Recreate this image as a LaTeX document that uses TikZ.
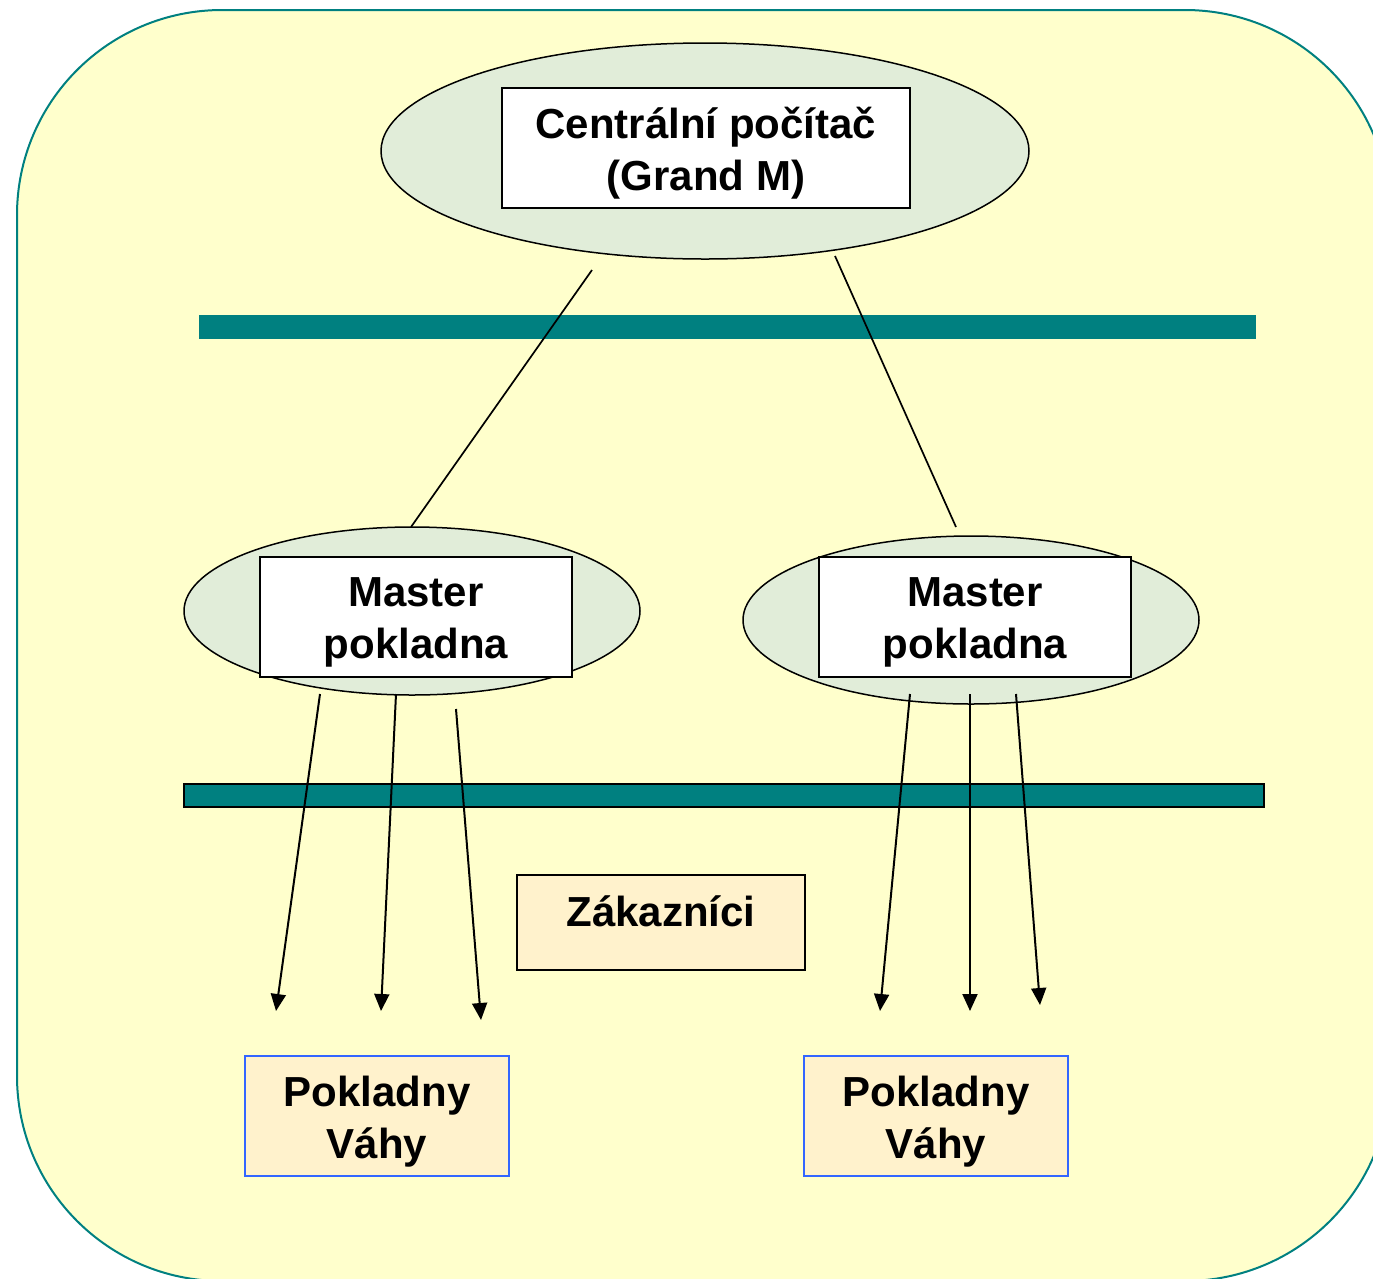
\documentclass[tikz,border=0pt]{standalone}
\usepackage{fontspec}
\setmainfont{Liberation Sans}
\usetikzlibrary{shapes.geometric,arrows.meta}
\definecolor{bgyellow}{HTML}{FFFFCC}
\definecolor{tealc}{HTML}{008080}
\definecolor{ellfill}{HTML}{E1EDD9}
\definecolor{cream}{HTML}{FFF2CC}
\definecolor{bluec}{HTML}{3366FF}
\begin{document}
\begin{tikzpicture}[x=1pt,y=-1pt,
  lbl/.style={font=\fontsize{42}{52}\selectfont\bfseries, align=center, inner sep=0pt},
  ell/.style={ellipse, draw=black, line width=1.5pt, fill=ellfill, inner sep=0pt},
  wbox/.style={rectangle, draw=black, line width=1.5pt, fill=white, inner sep=0pt},
  cbox/.style={rectangle, draw=black, line width=1.5pt, fill=cream, inner sep=0pt},
  pbox/.style={rectangle, draw=bluec, line width=1.5pt, fill=cream, inner sep=0pt, minimum width=264pt, minimum height=120pt},
  link/.style={line width=1.7pt},
  arr/.style={line width=2pt, -{Triangle[length=17pt,width=15pt]}},
  bar/.style={fill=tealc}
]
\useasboundingbox (0,0) rectangle (1373,1278);
\begin{scope}
\clip (0,0) rectangle (1373,1278);
\draw[fill=bgyellow, draw=tealc, line width=2pt, rounded corners=205pt] (17,10) rectangle (1390,1281);
\end{scope}

% bars
\path[bar] (199,315) rectangle (1256,339);
\draw[bar, draw=black, line width=1.5pt] (184,784) rectangle (1264,807);

% central
\node[ell, minimum width=648pt, minimum height=216pt] (cell) at (705,151) {};
\node[wbox, minimum width=408pt, minimum height=120pt] (cbox) at (706,148) {};
\node[lbl] (ctext) at ([yshift=-5pt]cbox.center) {Centrální počítač\\(Grand M)};

% masters
\node[ell, minimum width=456pt, minimum height=168pt] (lell) at (412,611) {};
\node[wbox, minimum width=312pt, minimum height=120pt] (lbox) at (416,617) {};
\node[lbl] (ltext) at ([yshift=-5pt]lbox.center) {Master\\pokladna};
\node[ell, minimum width=456pt, minimum height=168pt] (rell) at (971,620) {};
\node[wbox, minimum width=312pt, minimum height=120pt] (rbox) at (975,617) {};
\node[lbl] (rtext) at ([yshift=-5pt]rbox.center) {Master\\pokladna};

% customers
\node[cbox, minimum width=288pt, minimum height=95pt] (zak) at (661,922.5) {};
\node[lbl] (zakt) at (661,911) {Zákazníci};

% pokladny
\node[pbox] (lpok) at (377,1116) {};
\node[lbl] (lpokt) at ([yshift=-6pt]lpok.center) {Pokladny\\Váhy};
\node[pbox] (rpok) at (936,1116) {};
\node[lbl] (rpokt) at ([yshift=-6pt]rpok.center) {Pokladny\\Váhy};

% links from central
\coordinate (c1) at (592,270);
\coordinate (c2) at (835,256);
\coordinate (l1) at (411,527);
\coordinate (r1) at (956,527);
\draw[link] (c1) -- (l1);
\draw[link] (c2) -- (r1);

% arrows left
\coordinate (la1) at (320,694); \coordinate (lb1) at (276,1011);
\coordinate (la2) at (396,694); \coordinate (lb2) at (381,1011);
\coordinate (la3) at (456,709); \coordinate (lb3) at (481,1020);
\draw[arr] (la1) -- (lb1);
\draw[arr] (la2) -- (lb2);
\draw[arr] (la3) -- (lb3);

% arrows right
\coordinate (ra1) at (910,694); \coordinate (rb1) at (880,1011);
\coordinate (ra2) at (970,694); \coordinate (rb2) at (970,1011);
\coordinate (ra3) at (1016,694); \coordinate (rb3) at (1040,1005);
\draw[arr] (ra1) -- (rb1);
\draw[arr] (ra2) -- (rb2);
\draw[arr] (ra3) -- (rb3);
\end{tikzpicture}
\end{document}
